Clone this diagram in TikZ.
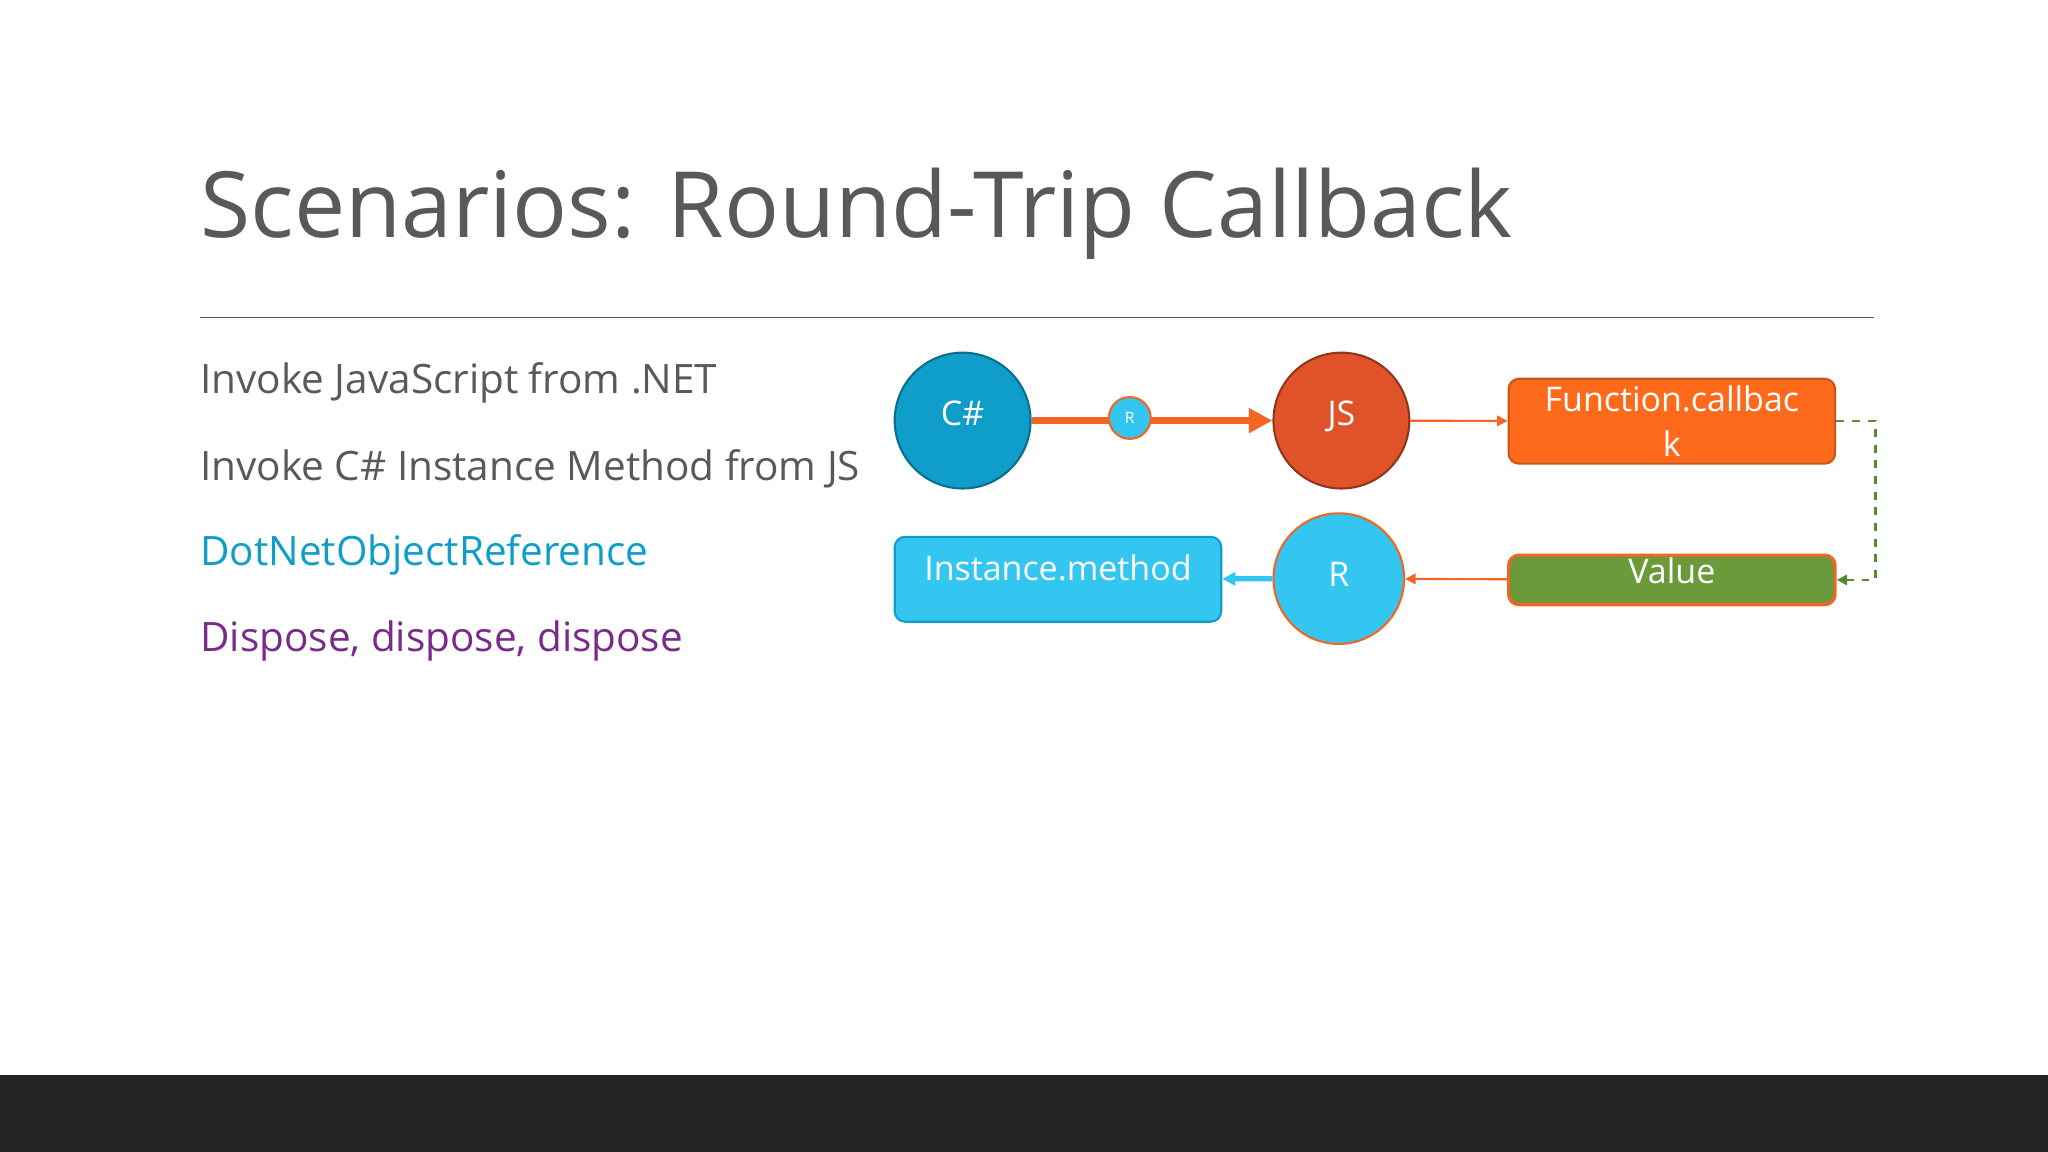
\documentclass[tikz,border=0pt]{standalone}
\usepackage{fontspec}
\setmainfont{Open Sans}
\usetikzlibrary{arrows.meta}
\definecolor{txt}{HTML}{595959}
\definecolor{csb}{HTML}{0E9EC9}
\definecolor{cyan2}{HTML}{33C6F0}
\definecolor{org}{HTML}{F26522}
\definecolor{jsf}{HTML}{E0532A}
\definecolor{fbox}{HTML}{FD6A1C}
\definecolor{grn}{HTML}{6B9A3A}
\definecolor{dgrn}{HTML}{5A8A30}
\definecolor{purp}{HTML}{7A2A8A}
\definecolor{bar}{HTML}{232326}
\tikzset{
  bigc/.style={circle,minimum size=52pt,inner sep=0pt,line width=0.8pt,text=white,font=\fontsize{13}{15}\selectfont},
  rbox/.style={rounded corners=4pt,minimum width=125pt,line width=0.8pt,text=white,font=\fontsize{13}{15}\selectfont,inner sep=0pt,align=center},
  lt/.style={anchor=west,font=\fontsize{15.5}{18}\selectfont,inner sep=0pt}
}
\begin{document}
\begin{tikzpicture}[x=0.5pt,y=-0.5pt]
\useasboundingbox (0,0) rectangle (1568,882);
\fill[white] (0,0) rectangle (1568,882);
\fill[bar] (0,823) rectangle (1568,882);
\node[anchor=base west,inner sep=0pt,text=txt,font=\fontsize{35}{40}\selectfont] (title) at (153,182) {Scenarios: Round-Trip Callback};
\draw[txt,line width=0.6pt] (153,243) coordinate (l1) -- (1435,243) coordinate (l2);
\node[lt,text=txt] (t1) at (153,293) {Invoke JavaScript from .NET};
\node[lt,text=txt] (t2) at (153,359) {Invoke C\# Instance Method from JS};
\node[lt,text=csb] (t3) at (153,425) {DotNetObjectReference};
\node[lt,text=purp] (t4) at (153,491) {Dispose, dispose, dispose};
% nodes
\node[bigc,fill=csb,draw=csb!70!black] (cs) at (737,322) {\raisebox{6pt}{C\#}};
\node[bigc,fill=jsf,draw=jsf!65!black] (js) at (1027,322) {\raisebox{6pt}{JS}};
\node[rbox,fill=fbox,draw=fbox!80!black,minimum height=32.5pt] (fn) at (1280,322.5) {\raisebox{8pt}{\parbox{125pt}{\centering\baselineskip=17pt Function.callbac\\k}}};
\node[rbox,fill=grn,draw=org,line width=1.2pt,minimum height=19pt] (val) at (1280,444) {};
\node[text=white,font=\fontsize{13}{15}\selectfont,inner sep=0pt] (vt) at (1280,437) {Value};
\node[bigc,fill=cyan2,draw=org,minimum size=50pt] (r) at (1025,443) {\raisebox{3pt}{R}};
\node[rbox,fill=cyan2,draw=csb,minimum height=32.5pt] (im) at (810,443.5) {\raisebox{9pt}{Instance.method}};
% thick arrow
\draw[org,line width=3pt,-{Triangle[length=9pt,width=9pt]}] (cs) -- (js);
\node[circle,fill=cyan2,draw=org,line width=0.8pt,minimum size=16pt,inner sep=0pt,text=white,font=\fontsize{6}{7}\selectfont] (sr) at (865,320) {R};
\draw[org,line width=0.8pt,-{Triangle[length=4pt,width=4pt]}] (js) -- (fn);
\draw[dgrn,line width=0.9pt,dashed,-{Triangle[length=4pt,width=4pt]}] (fn.east) -- ++(30,0) coordinate (c1) |- (val.east);
\draw[org,line width=0.8pt,-{Triangle[length=4pt,width=4pt]}] (val) -- (r);
\draw[cyan2,line width=2pt,-{Triangle[length=5pt,width=5pt]}] (r) -- (im);
\end{tikzpicture}
\end{document}
